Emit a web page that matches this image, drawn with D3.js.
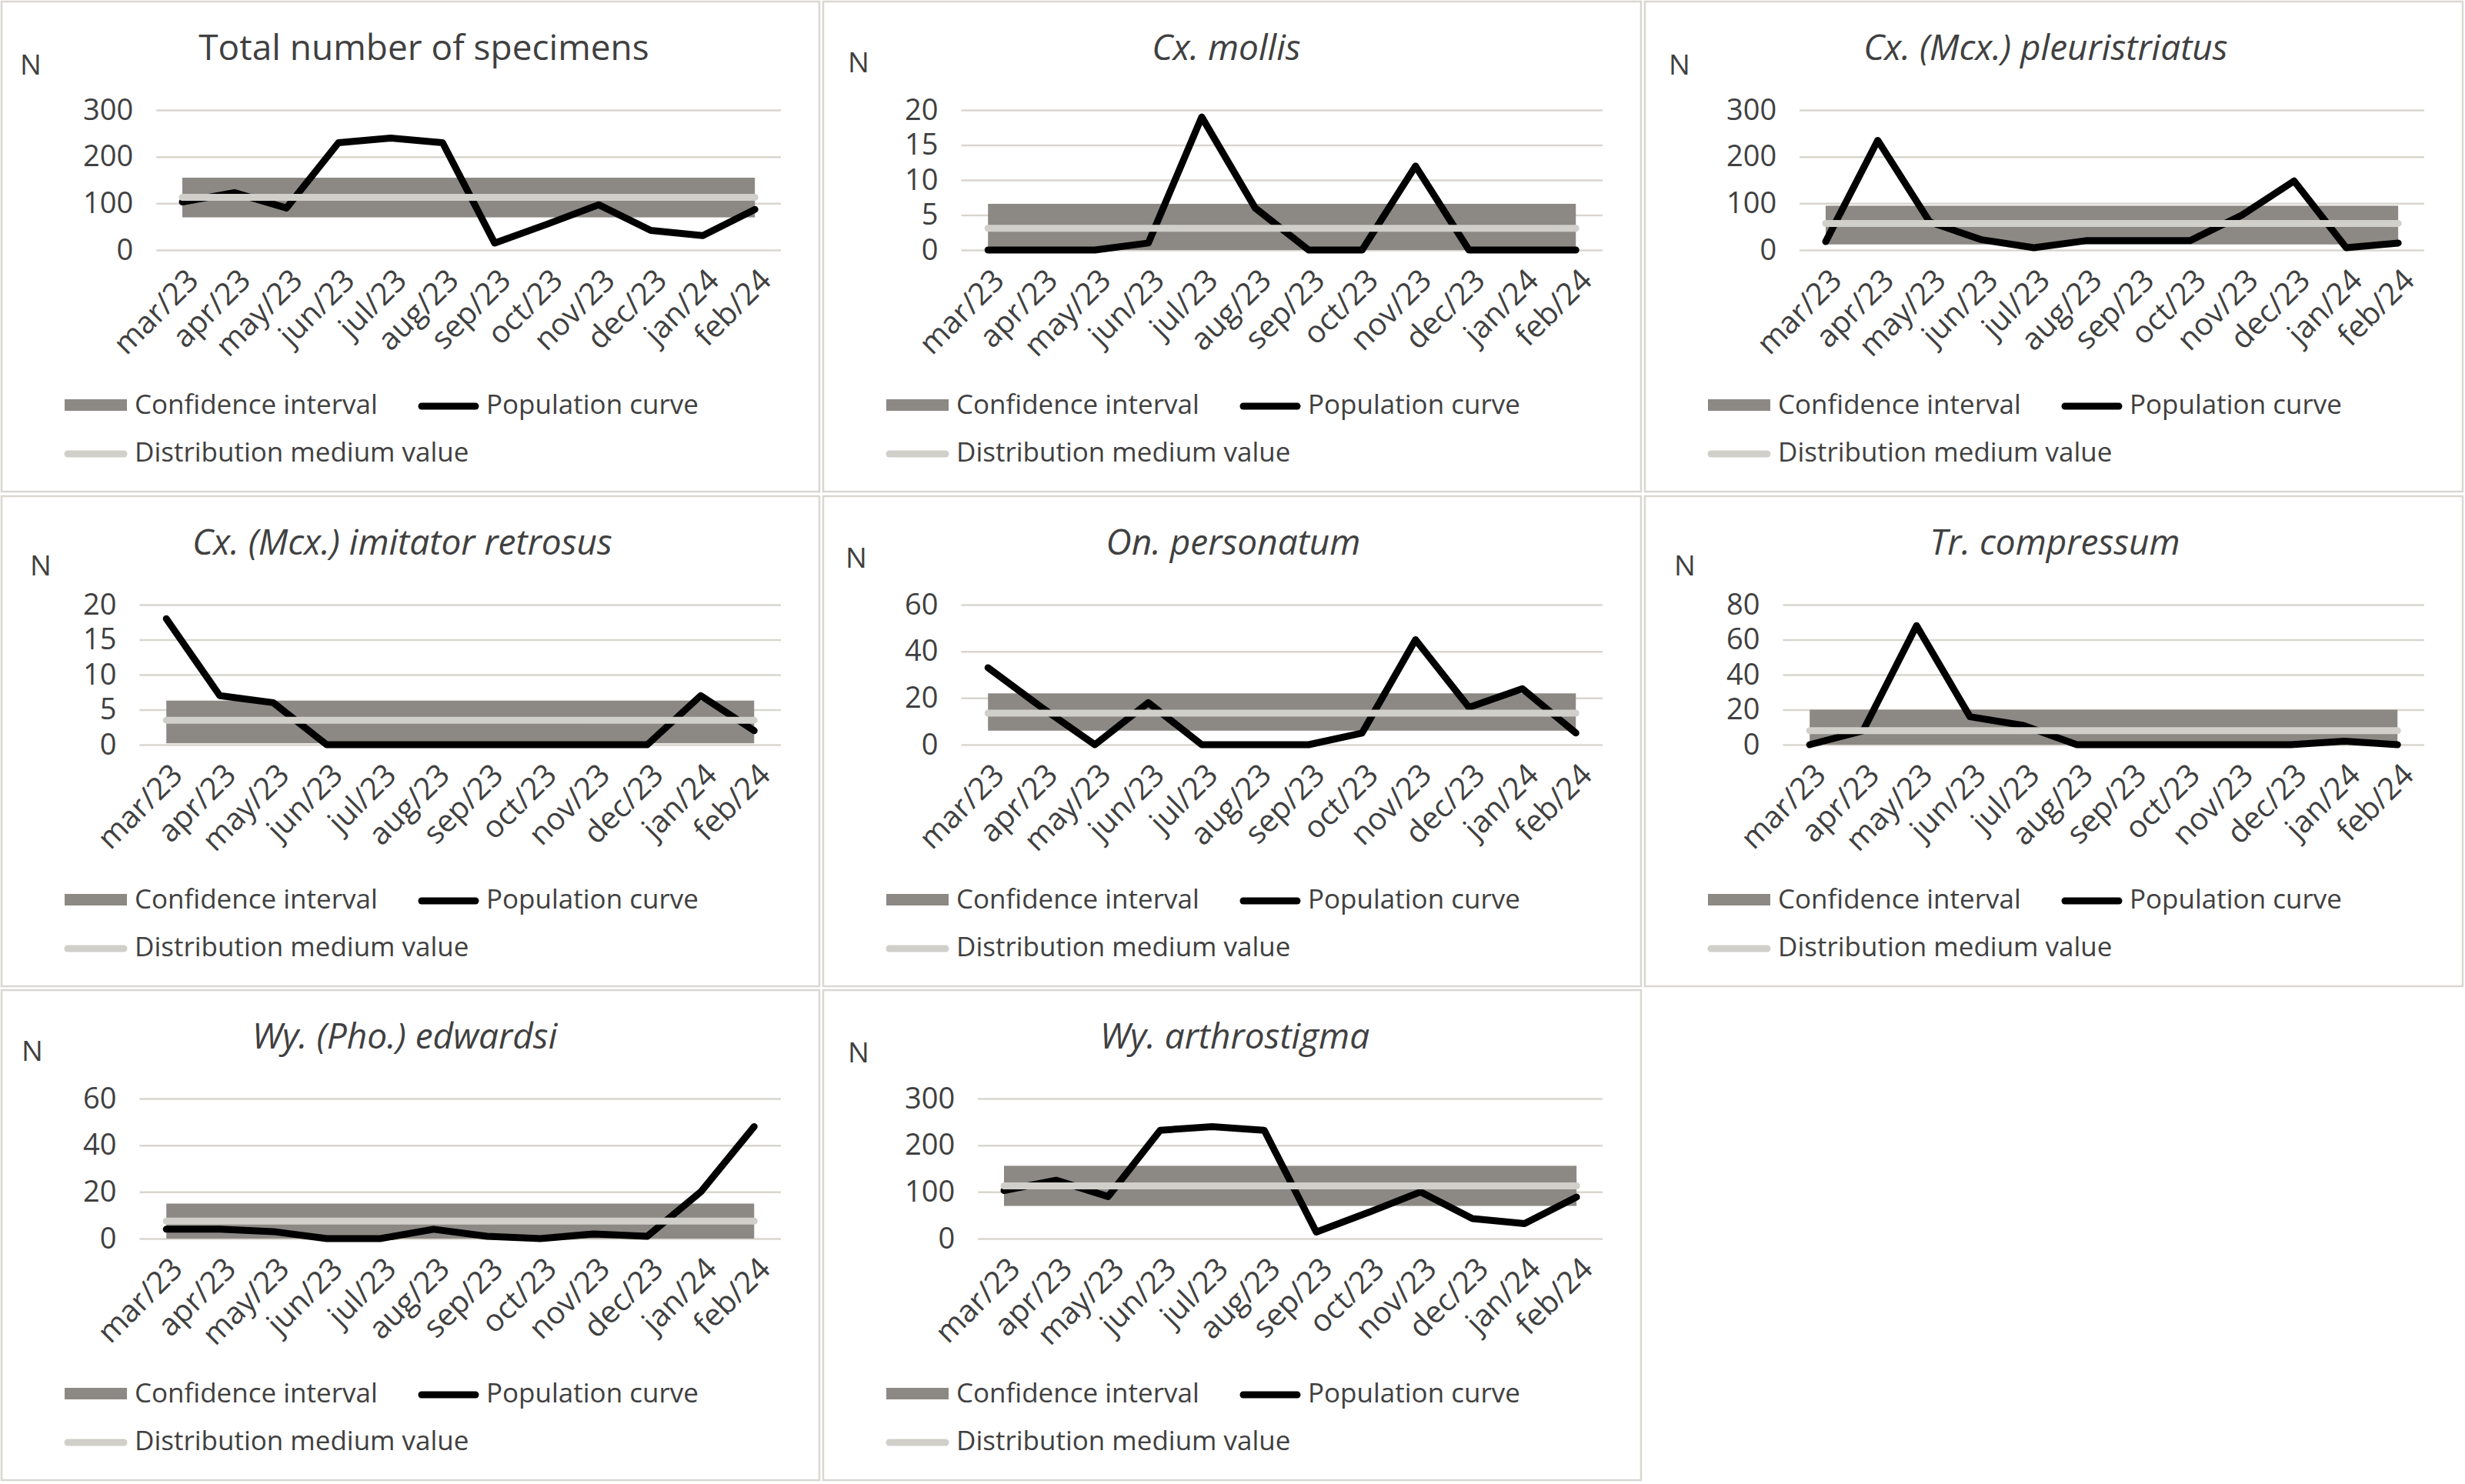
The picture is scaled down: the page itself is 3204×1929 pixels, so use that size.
<!DOCTYPE html>
<html lang="en">
<head>
<meta charset="UTF-8">
<title>Population curves</title>
<style>
  body { margin: 0; background: #ffffff; }
  svg { display: block; font-family: 'Open Sans', sans-serif; }
  .panel-frame { fill: #ffffff; stroke: #d9d7d1; stroke-width: 2.5px; }
  .grid line { stroke: #d9d6cf; stroke-width: 2.5px; }
  .grid text, .xaxis text { fill: #404040; }
  .title, .nlabel, .legend text { fill: #404040; }
</style>
</head>
<body>
<script src="https://d3js.org/d3.v7.min.js"></script>
<script>
// ---- data ----
const months = ["mar/23", "apr/23", "may/23", "jun/23", "jul/23", "aug/23",
                "sep/23", "oct/23", "nov/23", "dec/23", "jan/24", "feb/24"];

const titles = ["Total number of specimens", "Cx. mollis", "Cx. (Mcx.) pleuristriatus",
                "Cx. (Mcx.) imitator retrosus", "On. personatum", "Tr. compressum",
                "Wy. (Pho.) edwardsi", "Wy. arthrostigma"];

const totalSpecimens   = [103, 123, 90, 230, 240, 230, 15, 55, 97, 42, 31, 87];
const cxMollis         = [0, 0, 0, 1, 19, 6, 0, 0, 12, 0, 0, 0];
const cxPleuristriatus = [18, 235, 60, 22, 5, 20, 20, 20, 75, 148, 5, 15];
const cxImitator       = [18, 7, 6, 0, 0, 0, 0, 0, 0, 0, 7, 2];
const onPersonatum     = [33, 16, 0, 18, 0, 0, 0, 5, 45, 16, 24, 5];
const trCompressum     = [0, 8, 68, 16, 11, 0, 0, 0, 0, 0, 2, 0];
const wyEdwardsi       = [4, 4, 3, 0, 0, 4, 1, 0, 2, 1, 20, 48];
const wyArthrostigma   = [103, 125, 90, 232, 240, 232, 14, 56, 100, 43, 32, 89];

const series = [totalSpecimens, cxMollis, cxPleuristriatus, cxImitator,
                onPersonatum, trCompressum, wyEdwardsi, wyArthrostigma];

// confidence interval and distribution medium value per panel
const ciLow   = [70, 0, 12, 0.2, 6, 0, 0, 70];
const ciHigh  = [155, 6.6, 95, 6.3, 22, 20, 15, 156];
const medians = [113, 3.1, 57, 3.5, 13.5, 8, 7.5, 113];

// y axis tick labels
const yTicks = [
  [0, 100, 200, 300],
  [0, 5, 10, 15, 20],
  [0, 100, 200, 300],
  [0, 5, 10, 15, 20],
  [0, 20, 40, 60],
  [0, 20, 40, 60, 80],
  [0, 20, 40, 60],
  [0, 100, 200, 300]
];

const legendLabels = ["Confidence interval", "Population curve", "Distribution medium value"];

// ---- layout ----
const W = 3204, H = 1929;
const colX = [2, 1070, 2138];
const rowY = [2, 645, 1287];
const panelW = 1063, panelH = 637;
const plotTop = 141, plotBottom = 323, plotRight = 1013;
const titleX = [549, 524, 521, 521, 533, 533, 524, 535];
const nPos = [[24, 95], [32, 92], [31, 95], [37, 103], [29, 93], [38, 103], [26, 92], [32, 94]];

const ciColor = "#8c8985";
const medColor = "#d0cfca";

const svg = d3.select("body").append("svg")
    .attr("width", W)
    .attr("height", H);

series.forEach((vals, i) => {
  const col = i % 3, row = Math.floor(i / 3);
  const g = svg.append("g").attr("transform", `translate(${colX[col]},${rowY[row]})`);

  g.append("rect").attr("class", "panel-frame")
      .attr("x", 0).attr("y", 0).attr("width", panelW).attr("height", panelH);

  g.append("text").attr("class", "title")
      .attr("x", titleX[i]).attr("y", 76)
      .attr("text-anchor", "middle")
      .style("font-size", "46px")
      .style("font-style", i === 0 ? "normal" : "italic")
      .text(titles[i]);

  g.append("text").attr("class", "nlabel")
      .attr("x", nPos[i][0]).attr("y", nPos[i][1])
      .style("font-size", "37px")
      .text("N");

  // measure widest tick label to place the plot area like Excel does
  const probe = g.append("text").style("font-size", "38px");
  const labelW = d3.max(yTicks[i], t => { probe.text(t); return probe.node().getComputedTextLength(); });
  probe.remove();
  const plotLeft = 106 + labelW + 30;

  const y = d3.scaleLinear()
      .domain([0, d3.max(yTicks[i])])
      .range([plotBottom, plotTop]);
  const x = d3.scalePoint()
      .domain(months)
      .range([plotLeft, plotRight])
      .padding(0.5);

  // gridlines + y labels
  const yAxis = g.append("g").attr("class", "grid")
      .attr("transform", `translate(${plotLeft},0)`)
      .call(d3.axisLeft(y).tickValues(yTicks[i]).tickSize(-(plotRight - plotLeft)).tickPadding(30));
  yAxis.select(".domain").remove();
  yAxis.attr("font-family", null).attr("font-size", null);
  yAxis.selectAll("text").style("font-size", "38px");

  // x labels, rotated like the spreadsheet chart
  const xAxis = g.append("g").attr("class", "xaxis")
      .attr("transform", `translate(0,${plotBottom})`)
      .call(d3.axisBottom(x).tickSize(0));
  xAxis.select(".domain").remove();
  xAxis.attr("font-family", null).attr("font-size", null);
  xAxis.selectAll("text")
      .attr("y", 0).attr("x", 0).attr("dy", "0.35em")
      .attr("text-anchor", "end")
      .attr("transform", "translate(13,32) rotate(-45)")
      .style("font-size", "40px");

  const x0 = x(months[0]), x1 = x(months[months.length - 1]);

  // confidence interval band
  g.append("rect")
      .attr("x", x0).attr("width", x1 - x0)
      .attr("y", y(ciHigh[i])).attr("height", y(ciLow[i]) - y(ciHigh[i]))
      .attr("fill", ciColor);

  // population curve
  const line = d3.line().x((d, k) => x(months[k])).y(d => y(d));
  g.append("path")
      .datum(vals)
      .attr("d", line)
      .attr("fill", "none")
      .attr("stroke", "#000")
      .attr("stroke-width", 9)
      .attr("stroke-linejoin", "round")
      .attr("stroke-linecap", "round");

  // distribution medium value
  g.append("line")
      .attr("x1", x0).attr("x2", x1)
      .attr("y1", y(medians[i])).attr("y2", y(medians[i]))
      .attr("stroke", medColor)
      .attr("stroke-width", 9)
      .attr("stroke-linecap", "round");

  // legend
  const lg = g.append("g").attr("class", "legend").style("font-size", "35px");
  lg.append("rect").attr("x", 82).attr("y", 517).attr("width", 81).attr("height", 15).attr("fill", ciColor);
  lg.append("text").attr("x", 173).attr("y", 536).text(legendLabels[0]);
  lg.append("line").attr("x1", 546).attr("x2", 616).attr("y1", 526).attr("y2", 526)
      .attr("stroke", "#000").attr("stroke-width", 9).attr("stroke-linecap", "round");
  lg.append("text").attr("x", 630).attr("y", 536).text(legendLabels[1]);
  lg.append("line").attr("x1", 86).attr("x2", 159).attr("y1", 588).attr("y2", 588)
      .attr("stroke", medColor).attr("stroke-width", 9).attr("stroke-linecap", "round");
  lg.append("text").attr("x", 173).attr("y", 598).text(legendLabels[2]);
});
</script>
</body>
</html>
